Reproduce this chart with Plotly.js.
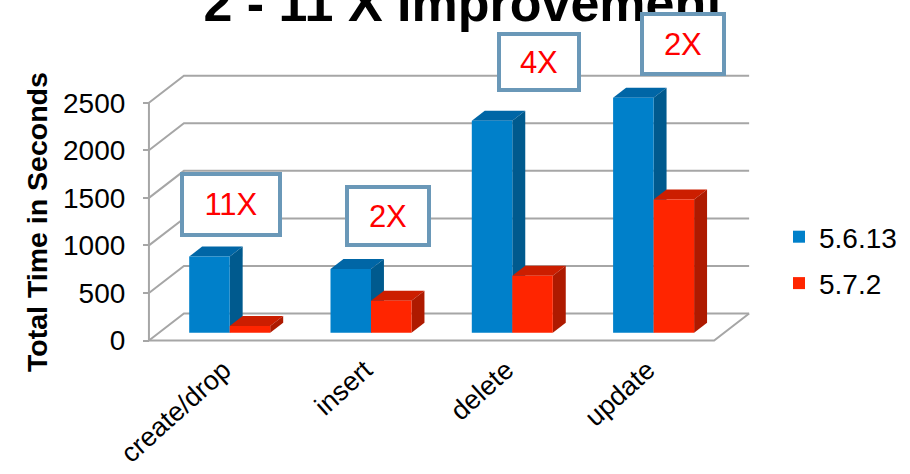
<!DOCTYPE html>
<html>
<head>
<meta charset="utf-8">
<script src="https://cdn.plot.ly/plotly-3.0.1.min.js"></script>
<style>
  html, body { margin: 0; padding: 0; background: #fff; }
  #chart { width: 910px; height: 474px; }
</style>
</head>
<body>
<div id="chart"></div>
<script>
// Total run time per operation for two server versions
const operations   = ['create/drop', 'insert', 'delete', 'update'];
const seriesNames  = ['5.6.13', '5.7.2'];
const timesOld     = [800, 670, 2230, 2470];
const timesNew     = [70, 335, 600, 1400];
const speedupText  = ['11X', '2X', '4X', '2X'];
const valueTicks   = [0, 500, 1000, 1500, 2000, 2500];

// ---------- page / plot geometry ----------
const W = 910, H = 474;
const M = { l: 140, r: 150, t: 60, b: 124, autoexpand: false };
const plotW = W - M.l - M.r, plotH = H - M.t - M.b;

const catPx   = 141.3;   // px between category centres
const cat0Px  = 229.7;   // px of first category centre
const unitPx  = 0.0951;  // px per second
const basePx  = 332.7;   // px of zero on the bar plane
const slant   = 1.296;   // x shift per px of depth
const dFront  = -7.8;    // depth of floor front edge / value axis
const dBack   = 19.2;    // depth of back wall
const dBar    = 10;      // bar thickness (depth)
const barW    = 40.5 / catPx;
const labelNudge = -6 / catPx;  // category labels sit slightly left of centre

const xRange  = [(M.l - cat0Px) / catPx, (W - M.r - cat0Px) / catPx];
const yRange  = [(basePx - (H - M.b)) / unitPx, (basePx - M.t) / unitPx];
const shiftF  = -dFront / unitPx;
const y2Range = [yRange[0] + shiftF, yRange[1] + shiftF];

// project (category, value, depth) onto bar-plane data coordinates
function P(c, v, d) { return [c + d * slant / catPx, v + d / unitPx]; }
function fmt(pts) { return pts.map(p => p[0].toFixed(5) + ',' + p[1].toFixed(3)).join('L'); }
function path(pts) { return 'M' + fmt(pts) + 'Z'; }
function openPath(pts) { return 'M' + fmt(pts); }

const gridColor = '#A6A6A6';
const shapes = [];
const gl = { color: gridColor, width: 2 };

// walls: side-wall diagonals + back-wall lines
valueTicks.forEach(v => {
  shapes.push({ type: 'path', xref: 'x', yref: 'y', layer: 'below', line: gl,
    path: openPath([P(-0.5, v, dFront), P(-0.5, v, dBack), P(3.5, v, dBack)]) });
});
// floor outline
shapes.push({ type: 'path', xref: 'x', yref: 'y', layer: 'below', line: gl,
  path: openPath([P(-0.5, 0, dFront), P(3.5, 0, dFront), P(3.5, 0, dBack)]) });
// front value-axis line
shapes.push({ type: 'path', xref: 'x', yref: 'y', layer: 'below', line: gl,
  path: openPath([P(-0.5, 0, dFront), P(-0.5, valueTicks[valueTicks.length - 1], dFront)]) });

const series = [
  { name: seriesNames[0], vals: timesOld, off: -barW, front: '#0080CA', top: '#0066A6', side: '#005A8E' },
  { name: seriesNames[1], vals: timesNew, off: 0,     front: '#FF2500', top: '#CC1E00', side: '#AE1A00' }
];

// top and side faces of each column
operations.forEach((op, i) => {
  series.forEach(s => {
    const v = s.vals[i];
    const c0 = i + s.off, c1 = c0 + barW;
    shapes.push({ type: 'path', xref: 'x', yref: 'y', layer: 'below',
      fillcolor: s.top, line: { width: 0 },
      path: path([P(c0, v, 0), P(c1, v, 0), P(c1, v, dBar), P(c0, v, dBar)]) });
    shapes.push({ type: 'path', xref: 'x', yref: 'y', layer: 'below',
      fillcolor: s.side, line: { width: 0 },
      path: path([P(c1, 0, 0), P(c1, v, 0), P(c1, v, dBar), P(c1, 0, dBar)]) });
  });
});

const traces = series.map((s, k) => ({
  type: 'bar',
  name: s.name,
  legendgroup: 'g' + k,
  x: operations.map((_, i) => i),
  y: s.vals,
  width: barW,
  offset: s.off,
  marker: { color: s.front, line: { width: 0 } },
  hoverinfo: 'skip'
}));
// invisible trace binding the front value axis
traces.push({ type: 'scatter', x: [0], y: [0], yaxis: 'y2', mode: 'markers',
  marker: { opacity: 0 }, showlegend: false, hoverinfo: 'skip' });

const FONT = 'Liberation Sans, Arial, sans-serif';
const px2paperX = px => (px - M.l) / plotW;
const px2paperY = py => (H - M.b - py) / plotH;

// speed-up call-out boxes (centre px, size px)
const boxCentres = [[231, 204.5], [388, 216], [539, 62.5], [683, 44]];
const boxSizes   = [[102, 65], [86, 62], [84, 60], [86, 64]];
const bw = 4;

const annotations = speedupText.map((t, i) => ({
  text: t, showarrow: false,
  xref: 'paper', yref: 'paper',
  x: px2paperX(boxCentres[i][0]), y: px2paperY(boxCentres[i][1]),
  xanchor: 'center', yanchor: 'middle',
  width: boxSizes[i][0] - 2 * bw, height: boxSizes[i][1] - 2 * bw,
  borderpad: 0, borderwidth: bw, bordercolor: '#6A98B8', bgcolor: '#FFFFFF',
  font: { family: FONT, size: 31, color: '#FF0000' }
}));
annotations.push({
  text: 'Total Time in Seconds', showarrow: false, textangle: -90,
  xref: 'paper', yref: 'paper', x: px2paperX(37), y: px2paperY(222),
  xanchor: 'center', yanchor: 'middle',
  font: { family: FONT, size: 28.5, color: '#000', weight: 'bold' }
});

const layout = {
  width: W, height: H,
  margin: M,
  paper_bgcolor: '#FFFFFF', plot_bgcolor: 'rgba(0,0,0,0)',
  font: { family: FONT, color: '#000' },
  title: {
    text: '2 - 11 X Improvement',
    font: { family: FONT, size: 52, weight: 'bold', color: '#000' },
    xref: 'container', yref: 'container',
    x: 463.5 / W, xanchor: 'center',
    y: 1 - 3 / H, yanchor: 'middle'
  },
  barmode: 'overlay',
  showlegend: true,
  legend: {
    x: px2paperX(779), y: px2paperY(212), xanchor: 'left', yanchor: 'top',
    font: { family: FONT, size: 28, color: '#000' },
    itemwidth: 30, bgcolor: 'rgba(0,0,0,0)',
    traceorder: 'grouped', tracegroupgap: 7
  },
  xaxis: {
    type: 'linear', range: xRange, fixedrange: true,
    tickvals: operations.map((_, i) => i + labelNudge), ticktext: operations,
    tickangle: -42, tickfont: { family: FONT, size: 27, color: '#000' },
    ticks: '', showgrid: false, zeroline: false, showline: false,
    ticklabelstandoff: -2
  },
  yaxis: {
    range: yRange, fixedrange: true,
    showticklabels: false, ticks: '', showgrid: false, zeroline: false, showline: false
  },
  yaxis2: {
    overlaying: 'y', anchor: 'free', side: 'left',
    position: px2paperX(148.9),
    range: y2Range, fixedrange: true,
    tickvals: valueTicks, ticks: 'outside', ticklen: 6, tickwidth: 2, tickcolor: gridColor,
    tickfont: { family: FONT, size: 28, color: '#000' },
    ticklabelstandoff: 12,
    showgrid: false, zeroline: false, showline: false
  },
  shapes: shapes,
  annotations: annotations
};

Plotly.newPlot('chart', traces, layout, { displayModeBar: false, staticPlot: true });
</script>
</body>
</html>
